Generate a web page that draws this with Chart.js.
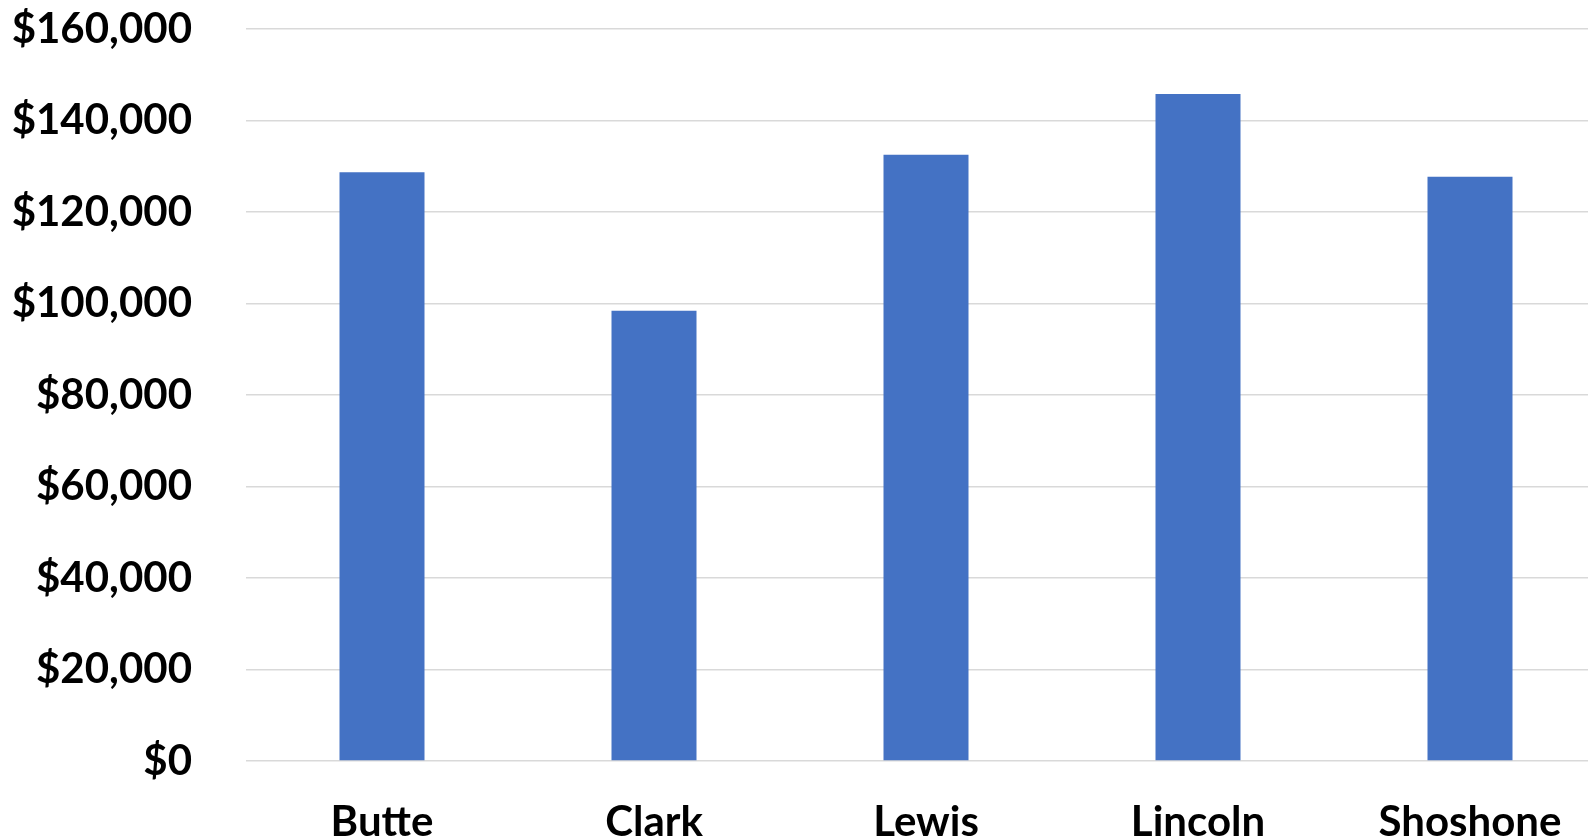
<!DOCTYPE html>
<html>
<head>
<meta charset="utf-8">
<script src="https://cdn.jsdelivr.net/npm/chart.js@4/dist/chart.umd.min.js"></script>
<style>
  html, body { margin: 0; padding: 0; background: #ffffff; overflow: hidden; }
  #wrap { position: relative; width: 1606px; height: 838px; }
</style>
</head>
<body>
<div id="wrap"><canvas id="chart"></canvas></div>
<script>
// Counties and their values
const counties = ['Butte', 'Clark', 'Lewis', 'Lincoln', 'Shoshone'];
const amounts = [128700, 98400, 132500, 145800, 127700];
const yTicks = [0, 20000, 40000, 60000, 80000, 100000, 120000, 140000, 160000];

const fmtDollar = v => '$' + Number(v).toLocaleString('en-US');
const labelFont = { family: 'Lato', size: 42, weight: 'bold' };

new Chart(document.getElementById('chart'), {
  type: 'bar',
  data: {
    labels: counties,
    datasets: [{
      data: amounts,
      backgroundColor: '#4472C4',
      borderWidth: 0,
      categoryPercentage: 1,
      barPercentage: 0.3125
    }]
  },
  options: {
    responsive: true,
    maintainAspectRatio: false,
    animation: false,
    layout: { padding: { top: 29, right: 0, bottom: 0, left: 0 } },
    plugins: { legend: { display: false }, tooltip: { enabled: false } },
    scales: {
      x: {
        grid: { display: false },
        border: { display: false },
        ticks: {
          color: '#000000',
          font: labelFont,
          padding: 28,
          maxRotation: 0
        },
        afterFit: s => { s.height = 77; }
      },
      y: {
        min: 0,
        max: yTicks[yTicks.length - 1],
        afterBuildTicks: s => { s.ticks = yTicks.map(v => ({ value: v })); },
        grid: { color: '#d9d9d9', lineWidth: 1.5, drawTicks: false },
        border: { display: false },
        ticks: {
          color: '#000000',
          font: labelFont,
          padding: 54,
          callback: v => fmtDollar(v)
        },
        afterFit: s => {
          s.width = 246;
          s.paddingTop = 0;
          s.paddingBottom = 0;
        }
      }
    }
  }
});
</script>
</body>
</html>
